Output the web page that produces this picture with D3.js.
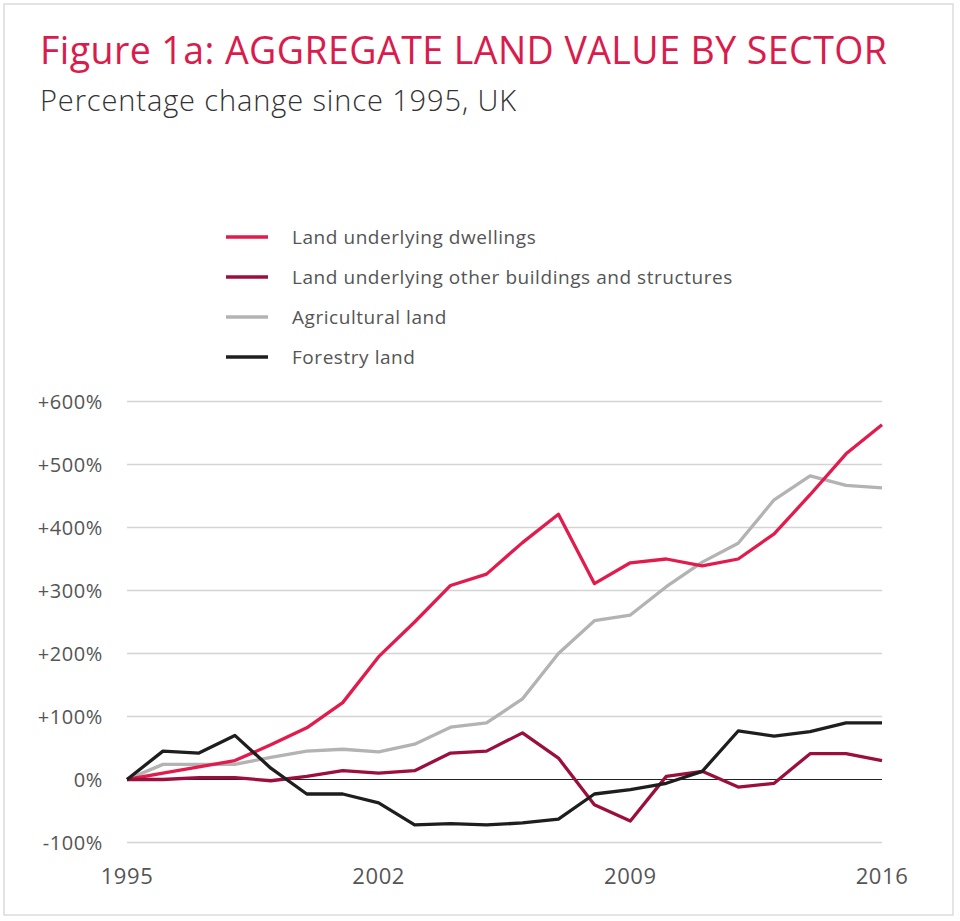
<!DOCTYPE html>
<html>
<head>
<meta charset="utf-8">
<script src="https://cdn.jsdelivr.net/npm/d3@7"></script>
<style>
  body { margin: 0; background: #fff; }
  text { font-family: "Open Sans", sans-serif; }
</style>
</head>
<body>
<svg width="960" height="921"></svg>
<script>
// years and series (percentage change since 1995)
const years = d3.range(1995, 2017);
const dwellings = [0, 10, 20, 30, 55, 82, 122, 195, 250, 308, 326, 376, 421, 311, 344, 350, 339, 350, 390, 452, 517, 563];
const otherBuildings = [0, 0, 3, 3, -2, 5, 14, 10, 14, 42, 45, 74, 34, -40, -66, 5, 13, -12, -6, 41, 41, 30];
const agricultural = [0, 24, 24, 24, 35, 45, 48, 44, 56, 83, 90, 128, 200, 252, 261, 306, 345, 375, 444, 482, 467, 463];
const forestry = [0, 45, 42, 70, 18, -23, -23, -37, -72, -70, -72, -69, -63, -23, -16, -6, 13, 77, 69, 76, 90, 90];

const seriesNames = ["Land underlying dwellings", "Land underlying other buildings and structures", "Agricultural land", "Forestry land"];
const seriesColors = ["#e21b4d", "#9c0f3c", "#b3b3b3", "#1e1e1e"];
const yTicks = [-100, 0, 100, 200, 300, 400, 500, 600];
const xTicks = [1995, 2002, 2009, 2016];

const svg = d3.select("svg");

// light frame round the whole figure
svg.append("rect")
   .attr("x", 4).attr("y", 4)
   .attr("width", 949).attr("height", 911)
   .attr("fill", "none")
   .attr("stroke", "#dcdcdc")
   .attr("stroke-width", 1.5);

// titles
svg.append("text")
   .attr("x", 40).attr("y", 64)
   .attr("fill", "#d91c4d")
   .attr("font-size", 37.5)
   .attr("textLength", 847)
   .attr("lengthAdjust", "spacing")
   .text("Figure 1a: AGGREGATE LAND VALUE BY SECTOR");

svg.append("text")
   .attr("x", 40).attr("y", 111)
   .attr("fill", "#333")
   .attr("font-size", 29)
   .attr("font-weight", 300)
   .attr("textLength", 476)
   .attr("lengthAdjust", "spacing")
   .text("Percentage change since 1995, UK");

const x = d3.scaleLinear().domain([1995, 2016]).range([127, 882]);
const y = d3.scaleLinear().domain([-100, 600]).range([842.5, 401.5]);

// gridlines
svg.append("g")
   .selectAll("line")
   .data(yTicks.filter(d => d !== 0))
   .enter()
   .append("line")
   .attr("x1", x(1995)).attr("x2", x(2016))
   .attr("y1", d => y(d)).attr("y2", d => y(d))
   .attr("stroke", "#d4d4d4")
   .attr("stroke-width", 1.5);

// y labels
svg.append("g")
   .selectAll("text")
   .data(yTicks)
   .enter()
   .append("text")
   .attr("x", 103)
   .attr("y", d => y(d) + 7)
   .attr("text-anchor", "end")
   .attr("fill", "#555")
   .attr("font-size", 20)
   .attr("letter-spacing", 0.6)
   .text(d => d > 0 ? "+" + d + "%" : d + "%");

// x labels
svg.append("g")
   .selectAll("text")
   .data(xTicks)
   .enter()
   .append("text")
   .attr("x", d => x(d))
   .attr("y", 884)
   .attr("text-anchor", "middle")
   .attr("fill", "#555")
   .attr("font-size", 22)
   .attr("letter-spacing", 0.6)
   .text(d => d);

// series lines
const allSeries = [dwellings, otherBuildings, agricultural, forestry];
const line = d3.line()
               .x((d, i) => x(years[i]))
               .y(d => y(d));

// zero line
svg.append("line")
   .attr("x1", x(1995)).attr("x2", x(2016))
   .attr("y1", y(0)).attr("y2", y(0))
   .attr("stroke", "#222")
   .attr("stroke-width", 1);

// draw order: grey first, then red, dark red, black on top
const order = [2, 0, 1, 3];
svg.append("g")
   .selectAll("path")
   .data(order)
   .enter()
   .append("path")
   .attr("d", k => line(allSeries[k]))
   .attr("fill", "none")
   .attr("stroke", k => seriesColors[k])
   .attr("stroke-width", 3.3)
   .attr("stroke-linejoin", "round");

// legend
const legend = svg.append("g")
                  .selectAll("g")
                  .data(seriesNames)
                  .enter()
                  .append("g")
                  .attr("transform", (d, i) => `translate(226, ${237 + i * 40})`);

legend.append("line")
      .attr("x1", 0).attr("x2", 42)
      .attr("stroke", (d, i) => seriesColors[i])
      .attr("stroke-width", 3.5);

legend.append("text")
      .attr("x", 66).attr("y", 7)
      .attr("fill", "#555")
      .attr("font-size", 19)
      .attr("letter-spacing", 0.55)
      .text(d => d);
</script>
</body>
</html>
